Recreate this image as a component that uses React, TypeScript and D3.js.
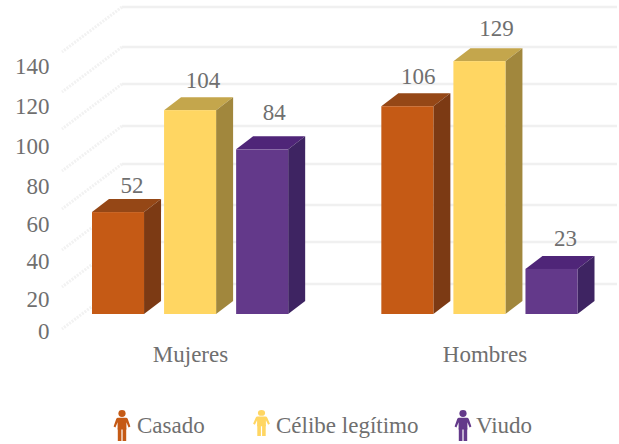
import React from "react";
import * as d3 from "d3";

// Chart values
const categories = ["Mujeres", "Hombres"];
const seriesNames = ["Casado", "Célibe legítimo", "Viudo"];
const casado = [52, 106];
const celibe = [104, 129];
const viudo = [84, 23];
const axisTicks = [0, 20, 40, 60, 80, 100, 120, 140];

// Palette: front, side and top faces of each series
const frontColors = ["#c55a15", "#ffd662", "#63398a"];
const sideColors = ["#7c3a14", "#a1873d", "#3e2462"];
const topColors = ["#954716", "#c4a64c", "#4f2578"];

const W = 619;
const H = 444;
const BASE_Y = 314;
const DEPTH_X = 17;
const DEPTH_Y = 13;
const FONT = "'Liberation Serif', serif";
const FONT_SIZE = 23;
const TEXT = "#6f6f6f";

const valueOf = [casado, celibe, viudo];

// Hand placement of the value labels, per series and category
const labelShiftX = [[14, 11], [13, 17], [12, 14]];
const labelLift = [[19, 22], [22, 25], [29, 23]];

// Bar height runs along the front plane of the 3D box
const y = d3.scaleLinear().domain([0, 140]).range([BASE_Y, BASE_Y - 140 * 1.96]);
const x0 = d3.scaleBand<string>().domain(categories).range([92, 577.5]).paddingInner(0.322);
const x1 = d3.scaleBand<string>().domain(seriesNames).range([0, x0.bandwidth()]).paddingInner(0.278);

// The rear wall and the tick labels sit on their own perspective-shifted levels
const wallY = d3.scaleLinear().domain(axisTicks).range([284, 242, 205, 164, 126, 84, 47, 7]);
const tickLabelY = d3.scaleLinear().domain([0, 20, 80, 140]).range([331, 299, 186, 66]);
const categoryX = d3.scalePoint<string>().domain(categories).range([190.5, 485]);

const WALL_LEFT = 122;
const WALL_RIGHT = 617;
const SIDE_DX = -60;
const SIDE_DY = 45;

const polygon = d3.line<[number, number]>();

function Person({ x, top, color, h }: { x: number; top: number; color: string; h: number }) {
  // Pictogram drawn in a 16 x 32 unit box, squeezed vertically to the requested height
  const s = h / 32;
  return (
    <g transform={`translate(${x},${top}) scale(1,${s})`} fill={color}>
      <circle cx={0} cy={3.6} r={3.6} />
      <path d="M-4 8 H4 Q5.2 8 5.8 9.4 L8.4 17 L6.6 18 L4.4 12.6 V20 H-4.4 V12.6 L-6.6 18 L-8.4 17 L-5.8 9.4 Q-5.2 8 -4 8 Z" />
      <path d="M-4.2 19 H-0.6 V32 H-4.2 Z M0.6 19 H4.2 V32 H0.6 Z" />
    </g>
  );
}

const legendItems = [
  { icon: 122, text: 137, h: 31, top: 410 },
  { icon: 261.5, text: 276, h: 26, top: 410 },
  { icon: 463, text: 476, h: 31, top: 410 },
];

export default function App() {
  return (
    <svg
      width={W}
      height={H}
      viewBox={`0 0 ${W} ${H}`}
      style={{ position: "absolute", left: 0, top: 0, background: "#fff" }}
    >
      {/* Rear wall gridlines and the dashed side wall */}
      {axisTicks.map((t) => (
        <g key={t}>
          <line x1={WALL_LEFT} x2={WALL_RIGHT} y1={wallY(t)} y2={wallY(t)} stroke="#f0f0f0" strokeWidth={2.5} />
          <line
            x1={WALL_LEFT}
            x2={WALL_LEFT + SIDE_DX}
            y1={wallY(t)}
            y2={wallY(t) + SIDE_DY}
            stroke="#f2f2f2"
            strokeWidth={3}
            strokeDasharray="2 1.2"
          />
        </g>
      ))}

      {/* Boxes */}
      {categories.map((c, ci) =>
        seriesNames.map((s, si) => {
          const v = valueOf[si][ci];
          const bx = (x0(c) as number) + (x1(s) as number);
          const bw = x1.bandwidth();
          const top = y(v);
          const topFace: [number, number][] = [
            [bx, top],
            [bx + DEPTH_X, top - DEPTH_Y],
            [bx + bw + DEPTH_X, top - DEPTH_Y],
            [bx + bw, top],
          ];
          const sideFace: [number, number][] = [
            [bx + bw, top],
            [bx + bw + DEPTH_X, top - DEPTH_Y],
            [bx + bw + DEPTH_X, BASE_Y - DEPTH_Y],
            [bx + bw, BASE_Y],
          ];
          return (
            <g key={s + c}>
              <path d={polygon(topFace) + "Z"} fill={topColors[si]} />
              <path d={polygon(sideFace) + "Z"} fill={sideColors[si]} />
              <rect x={bx} y={top} width={bw} height={BASE_Y - top} fill={frontColors[si]} />
              <text
                x={bx + bw / 2 + labelShiftX[si][ci]}
                y={top - labelLift[si][ci]}
                textAnchor="middle"
                fontFamily={FONT}
                fontSize={FONT_SIZE}
                fill={TEXT}
              >
                {v}
              </text>
            </g>
          );
        })
      )}

      {/* Value axis labels */}
      {axisTicks.map((t) => (
        <text
          key={t}
          x={49.5}
          y={tickLabelY(t)}
          dy="0.35em"
          textAnchor="end"
          fontFamily={FONT}
          fontSize={FONT_SIZE}
          fill={TEXT}
        >
          {t}
        </text>
      ))}

      {/* Category labels */}
      {categories.map((c) => (
        <text
          key={c}
          x={categoryX(c)}
          y={362}
          textAnchor="middle"
          fontFamily={FONT}
          fontSize={FONT_SIZE}
          fill={TEXT}
        >
          {c}
        </text>
      ))}

      {/* Legend */}
      {seriesNames.map((s, i) => (
        <g key={s}>
          <Person x={legendItems[i].icon} top={legendItems[i].top} h={legendItems[i].h} color={frontColors[i]} />
          <text x={legendItems[i].text} y={433} fontFamily={FONT} fontSize={FONT_SIZE} fill={TEXT}>
            {s}
          </text>
        </g>
      ))}
    </svg>
  );
}
